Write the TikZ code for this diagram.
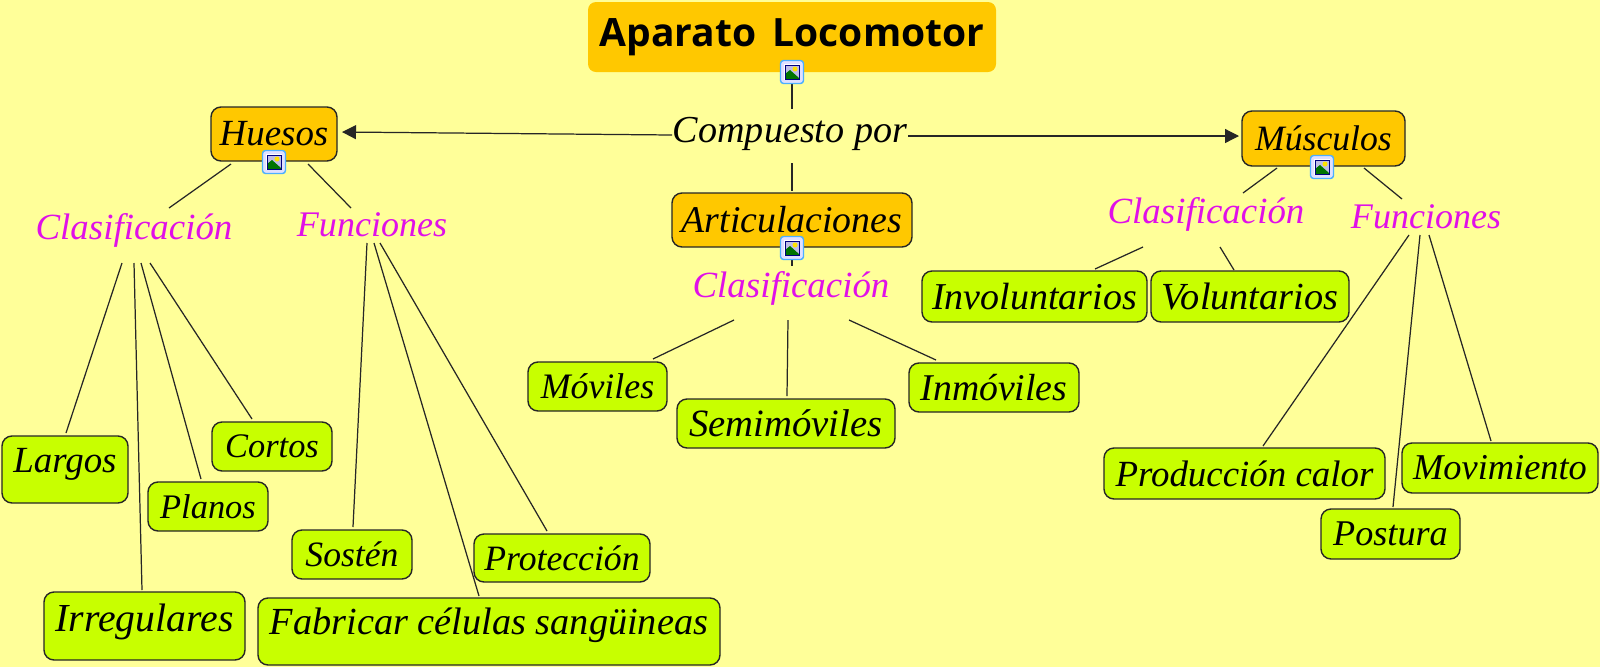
\documentclass[tikz,border=0pt]{standalone}
\usepackage{fontspec}
\usetikzlibrary{arrows.meta}
\newfontfamily\titlefont[WordSpace=1.6]{Open Sans}
\newfontfamily\handfont{Liberation Serif}
\definecolor{bgyellow}{HTML}{FFFF99}
\definecolor{boxorange}{HTML}{FFC800}
\definecolor{boxlime}{HTML}{C8FF00}
\definecolor{catpink}{HTML}{E010E8}
\def\ux{0.02cm}
\tikzset{
	cursive/.style={font=\handfont\itshape\fontsize{#1}{#1}\selectfont, inner sep=0pt, outer sep=0pt, text=black},
	mainbox/.style={cursive=#1, draw=black!85, line width=0.8pt, fill=boxorange, rounded corners=0.2cm},
	mainbox/.default=21,
	leafbox/.style={cursive=#1, draw=black!85, line width=0.8pt, fill=boxlime, rounded corners=0.2cm},
	leafbox/.default=21,
	catlabel/.style={cursive=#1, text=catpink},
	catlabel/.default=21,
	link/.style={draw=black!85, line width=0.7pt},
	pics/imgicon/.style={code={
		\draw[rounded corners=0.06cm, draw=blue!45!cyan!70, fill=blue!12, line width=0.8pt] (-11.5,-11.5) rectangle (11.5,11.5);
		\fill[white] (-8,-8) rectangle (8,8);
		\fill[cyan!20!blue!25] (-7,-7) rectangle (7,7);
		\fill[yellow!85!orange] (3,-3) circle (2.5);
		\fill[green!45!black] (-7,7) -- (-7,2) -- (-2,-2) -- (7,6) -- (7,7) -- cycle;
		\draw[blue!50!black, line width=0.5pt] (-7,-7) rectangle (7,7);
	}}
}
\begin{document}
\begin{tikzpicture}[x=0.02cm,y=-0.02cm]
	\fill[bgyellow] (0,0) rectangle (1600,667);
	\useasboundingbox (0,0) rectangle (1600,667);
	% Title and link word
	\node[fill=boxorange, rounded corners=0.16cm, inner sep=0pt, minimum width=408*\ux, minimum height=70*\ux, font=\titlefont\bfseries\fontsize{22.2}{22.2}\selectfont] (title) at (792,37) {Aparato Locomotor};
	\node[cursive=21.7, minimum width=236*\ux, minimum height=50*\ux] (compuesto) at (790,134) {Compuesto por};
	% Main boxes
	\node[mainbox, minimum width=126*\ux, minimum height=54*\ux] (huesos) at (274,134) {Huesos};
	\node[mainbox=21.5, minimum width=240*\ux, minimum height=54*\ux] (articulaciones) at (792,220) {Articulaciones};
	\node[mainbox=20.3, minimum width=163*\ux, minimum height=55*\ux] (musculos) at (1323.5,138.5) {Músculos};
	% Pink labels
	\node[catlabel, minimum width=197*\ux, minimum height=66*\ux] (clasifh) at (134,230) {Clasificación};
	\node[catlabel=20.5, minimum width=150*\ux, minimum height=36*\ux] (funh) at (372,225) {Funciones};
	\node[catlabel, minimum width=197*\ux, minimum height=64*\ux] (clasifc) at (791,288) {Clasificación};
	\node[catlabel, minimum width=197*\ux, minimum height=66*\ux] (clasifm) at (1206,214) {Clasificación};
	\node[catlabel=20.5, minimum width=150*\ux, minimum height=36*\ux] (funm) at (1426,217) {Funciones};
	% Leaves of huesos
	\node[leafbox, minimum width=126*\ux, minimum height=67*\ux, text depth=10pt] (largos) at (65,469.5) {Largos};
	\node[leafbox=19.6, minimum width=120*\ux, minimum height=49*\ux] (cortos) at (272,446.5) {Cortos};
	\node[leafbox=19.6, minimum width=120*\ux, minimum height=49*\ux] (planos) at (208,506.5) {Planos};
	\node[leafbox=22.6, minimum width=201*\ux, minimum height=68*\ux, text depth=10pt] (irregulares) at (144.5,626) {Irregulares};
	\node[leafbox=20.3, minimum width=120*\ux, minimum height=49*\ux] (sosten) at (352,554.5) {Sostén};
	\node[leafbox=20.3, minimum width=176*\ux, minimum height=48*\ux] (proteccion) at (562,558) {Protección};
	\node[leafbox=21.8, minimum width=462*\ux, minimum height=67*\ux, text depth=12pt] (fabricar) at (489,631.5) {Fabricar células sangüineas};
	% Leaves of articulaciones
	\node[leafbox=20.4, minimum width=139*\ux, minimum height=49*\ux] (moviles) at (597.5,386.5) {Móviles};
	\node[leafbox=22, minimum width=218*\ux, minimum height=49*\ux] (semimoviles) at (786,423.5) {Semimóviles};
	\node[leafbox=21.5, minimum width=170*\ux, minimum height=49*\ux] (inmoviles) at (994,387.5) {Inmóviles};
	% Leaves of musculos
	\node[leafbox=21.6, minimum width=225*\ux, minimum height=51*\ux] (involuntarios) at (1034.5,296.5) {Involuntarios};
	\node[leafbox=21.8, minimum width=198*\ux, minimum height=51*\ux] (voluntarios) at (1250,296.5) {Voluntarios};
	\node[leafbox, minimum width=281*\ux, minimum height=51*\ux] (produccion) at (1244.5,473.5) {Producción calor};
	\node[leafbox=20.7, minimum width=196*\ux, minimum height=50*\ux] (movimiento) at (1500,468) {Movimiento};
	\node[leafbox=20.6, minimum width=139*\ux, minimum height=50*\ux] (postura) at (1390.5,534) {Postura};
	% Centre links
	\draw[link] (title.south) -- ([shift={(2,0)}]compuesto.north);
	\draw[link] ([shift={(2,4)}]compuesto.south) -- ([shift={(0,-2)}]articulaciones.north);
	\draw[link] (articulaciones.south) -- ([shift={(1,10)}]clasifc.north);
	\draw[link,-{Triangle[length=14*\ux,width=14*\ux]}] ([shift={(0,1)}]compuesto.west) -- ([shift={(5,-2)}]huesos.east);
	\draw[link,-{Triangle[length=14*\ux,width=14*\ux]}] ([shift={(0,2)}]compuesto.east) -- ([shift={(-3,-2.5)}]musculos.west);
	% Links of huesos
	\draw[link] ([shift={(-43,3)}]huesos.south) -- ([shift={(35,11)}]clasifh.north);
	\draw[link] ([shift={(34,3)}]huesos.south) -- ([shift={(-21,1)}]funh.north);
	\draw[link] ([shift={(-12,0)}]clasifh.south) -- ([shift={(1,-3)}]largos.north);
	\draw[link] (clasifh.south) -- ([shift={(-2.5,-2)}]irregulares.north);
	\draw[link] ([shift={(7,0)}]clasifh.south) -- ([shift={(-7,-3)}]planos.north);
	\draw[link] ([shift={(16,0)}]clasifh.south) -- ([shift={(-20,-3)}]cortos.north);
	\draw[link] ([shift={(-5,0)}]funh.south) -- ([shift={(1,-3)}]sosten.north);
	\draw[link] ([shift={(2,0)}]funh.south) -- ([shift={(-10,-2)}]fabricar.north);
	\draw[link] ([shift={(8,0)}]funh.south) -- ([shift={(-15,-3)}]proteccion.north);
	% Links of articulaciones
	\draw[link] ([shift={(-57,0)}]clasifc.south) -- ([shift={(55.5,-3)}]moviles.north);
	\draw[link] ([shift={(-3,0)}]clasifc.south) -- ([shift={(1,-3)}]semimoviles.north);
	\draw[link] ([shift={(58,0)}]clasifc.south) -- ([shift={(-58,-3)}]inmoviles.north);
	% Links of musculos
	\draw[link] ([shift={(-46.5,2)}]musculos.south) -- ([shift={(37,12)}]clasifm.north);
	\draw[link] ([shift={(40.5,2)}]musculos.south) -- ([shift={(-24,0)}]funm.north);
	\draw[link] ([shift={(-63,0)}]clasifm.south) -- ([shift={(60.5,-2)}]involuntarios.north);
	\draw[link] ([shift={(14,0)}]clasifm.south) -- ([shift={(-16,-1)}]voluntarios.north);
	\draw[link] ([shift={(-17,0)}]funm.south) -- ([shift={(18.5,-2)}]produccion.north);
	\draw[link] ([shift={(-6,0)}]funm.south) -- ([shift={(2.5,-2)}]postura.north);
	\draw[link] ([shift={(3,0)}]funm.south) -- ([shift={(-9,-2)}]movimiento.north);
	% Picture icons on top
	\pic at (792,72) {imgicon};
	\pic at (792,248) {imgicon};
	\pic at (274,162) {imgicon};
	\pic at (1322,167) {imgicon};
\end{tikzpicture}
\end{document}
